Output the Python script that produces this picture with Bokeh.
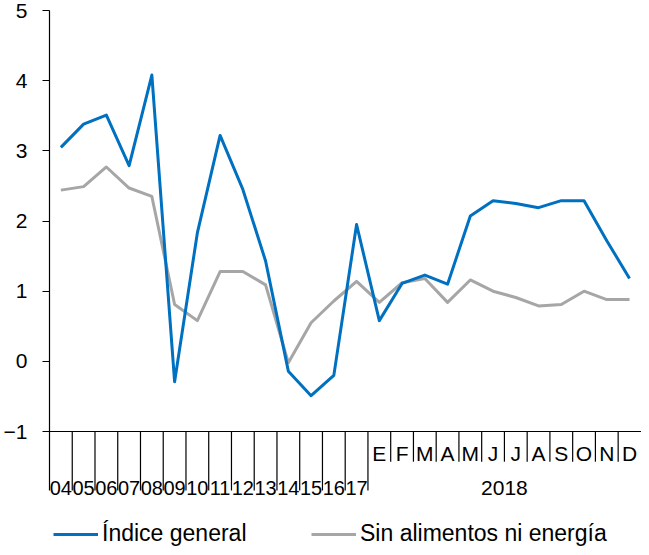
from bokeh.plotting import figure
from bokeh.models import Range1d, FixedTicker, Span, Legend, LegendItem, ColumnDataSource
from bokeh.core.properties import value
from bokeh.embed import file_html
from bokeh.resources import INLINE

# ---- data ----
years = ["04", "05", "06", "07", "08", "09", "10", "11", "12", "13", "14", "15", "16", "17"]
months = ["E", "F", "M", "A", "M", "J", "J", "A", "S", "O", "N", "D"]
month_year = "2018"
indice_general = [3.05, 3.38, 3.51, 2.79, 4.08, -0.29, 1.83, 3.22, 2.45, 1.43, -0.14, -0.49, -0.20, 1.95,
                  0.58, 1.11, 1.23, 1.10, 2.07, 2.29, 2.25, 2.19, 2.29, 2.29, 1.72, 1.18]
sin_alimentos = [2.44, 2.49, 2.77, 2.47, 2.35, 0.81, 0.58, 1.28, 1.28, 1.09, -0.02, 0.55, 0.86, 1.14,
                 0.84, 1.12, 1.18, 0.84, 1.16, 1.00, 0.91, 0.79, 0.81, 1.00, 0.88, 0.88]
y_ticks = [-1, 0, 1, 2, 3, 4, 5]
series_names = ["Índice general", "Sin alimentos ni energía"]

FONT = "Liberation Sans"
BLUE = "#0070C0"
GRAY = "#A6A6A6"

n_years = len(years)
n = n_years + len(months)
xs = list(range(n))

# layout constants (screen geometry)
W, H = 641, 547
LEFT = 45
TOP = 10
px_per_unit = 70.17
px_per_cat = 22.9
x_end = -0.5 + (W - LEFT) / px_per_cat
y_bottom = 5 - (H - TOP) / px_per_unit
y_min_axis = -1
y_year_line = -1.84
y_month_line = -1.43
y_month_label = -1.31
y_year_label = -1.80

p = figure(width=W, height=H, output_backend="svg", toolbar_location=None,
           title=None, x_axis_location=None,
           x_range=Range1d(-0.5, x_end), y_range=Range1d(y_bottom, 5))
p.min_border_left = LEFT
p.min_border_right = 0
p.min_border_top = TOP
p.min_border_bottom = 0
p.outline_line_color = None
p.grid.visible = False
p.background_fill_color = "white"

yax = p.yaxis[0]
yax.ticker = FixedTicker(ticks=y_ticks)
yax.bounds = (y_year_line, 5)
yax.axis_line_color = "black"
yax.axis_line_width = 1.2
yax.major_tick_line_color = "black"
yax.major_tick_line_width = 1.2
yax.major_tick_out = 7
yax.major_tick_in = 0
yax.minor_tick_line_color = None
yax.major_label_standoff = 15
yax.major_label_text_font = FONT
yax.major_label_text_font_size = "21px"
yax.major_label_text_color = "black"

# horizontal category axis line at y = -1
p.add_layout(Span(location=y_min_axis, dimension="width", line_color="black", line_width=1.2))

# separators: year boundaries (long), month boundaries (short)
year_sep = [i + 0.5 for i in range(n_years)]
month_sep = [n_years + i + 0.5 for i in range(len(months) - 1)]
p.segment(x0=year_sep, y0=[y_min_axis] * len(year_sep), x1=year_sep, y1=[y_year_line] * len(year_sep),
          line_color="black", line_width=1.2)
p.segment(x0=month_sep, y0=[y_min_axis] * len(month_sep), x1=month_sep, y1=[y_month_line] * len(month_sep),
          line_color="black", line_width=1.2)

# category labels
p.text(x=list(range(n_years)), y=[y_year_label] * n_years, text=years,
       text_font=value(FONT), text_font_size="20px", text_align="center", text_baseline="middle",
       text_color="black")
p.text(x=list(range(n_years, n)), y=[y_month_label] * len(months), text=months,
       text_font=value(FONT), text_font_size="21px", text_align="center", text_baseline="middle",
       text_color="black")
p.text(x=[(n_years + n - 1) / 2], y=[y_year_label], text=[month_year],
       text_font=value(FONT), text_font_size="21px", text_align="center", text_baseline="middle",
       text_color="black")

src = ColumnDataSource(dict(x=xs, a=indice_general, b=sin_alimentos))
r_gray = p.line("x", "b", source=src, line_color=GRAY, line_width=3, line_join="round")
r_blue = p.line("x", "a", source=src, line_color=BLUE, line_width=3, line_join="round")

def make_legend(label, rend, loc):
    lg = Legend(items=[LegendItem(label=label, renderers=[rend])], location=loc,
                orientation="horizontal", padding=0, margin=0, border_line_color=None,
                background_fill_alpha=0, glyph_width=45, glyph_height=20, label_height=20,
                label_standoff=4, label_text_font=FONT, label_text_font_size="23px",
                label_text_color="black")
    p.add_layout(lg)

make_legend(series_names[0], r_blue, (4, 0))
make_legend(series_names[1], r_gray, (262, 0))

open("out.html", "w").write(file_html(p, INLINE))
